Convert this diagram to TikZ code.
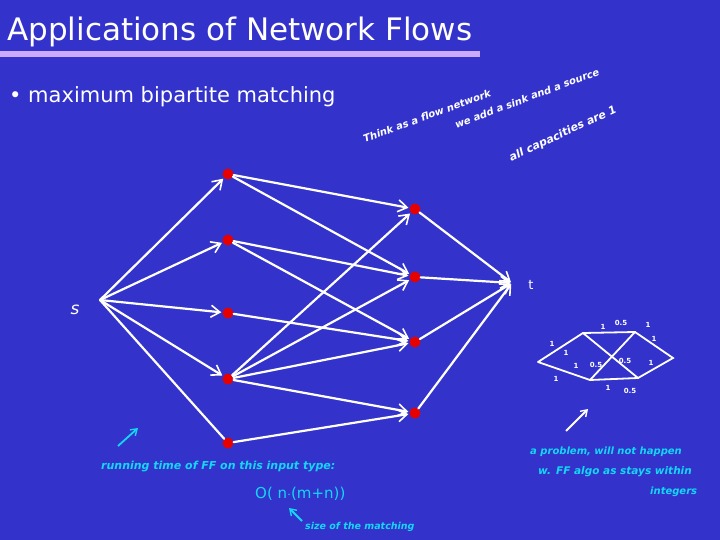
\documentclass[tikz,border=0pt]{standalone}
\usepackage{fontspec}
\setmainfont{DejaVu Sans}
\newfontfamily\handfont{DejaVu Sans}
\usetikzlibrary{arrows.meta}
\definecolor{bg}{RGB}{51,51,204}
\definecolor{bar}{RGB}{204,170,255}
\definecolor{cyanhand}{RGB}{20,215,245}
\definecolor{nodered}{RGB}{230,0,0}
\tikzset{
  vtx/.style={circle,fill=nodered,inner sep=0pt,minimum size=11pt,draw=none},
  pt/.style={inner sep=0pt,minimum size=0pt},
  edge/.style={draw=white,line width=2.2pt,line cap=round,-{Straight Barb[length=9pt,width=12pt,line width=1.6pt]},shorten >=1pt},
  plain/.style={draw=white,line width=2.2pt,line cap=round},
  small/.style={draw=white,line width=1.8pt,line cap=round},
  hw/.style={text=white,font=\handfont\bfseries\itshape\fontsize{10}{12}\selectfont,inner sep=0pt},
  cw/.style={text=cyanhand,font=\handfont\bfseries\itshape\fontsize{10}{12}\selectfont,inner sep=0pt},
  lab/.style={text=white,font=\handfont\bfseries\fontsize{7}{8}\selectfont,inner sep=0pt},
  carrow/.style={draw=cyanhand,line width=1.8pt,-{Straight Barb[length=6pt,width=8pt,line width=1.4pt]}},
  warrow/.style={draw=white,line width=1.8pt,-{Straight Barb[length=6pt,width=8pt,line width=1.4pt]}}
}
\begin{document}
\begin{tikzpicture}[x=1pt,y=-1pt]
\fill[bg] (0,0) rectangle (720,540);
\useasboundingbox (0,0) rectangle (720,540);
% title
\node[anchor=west,text=white,font=\fontsize{31}{34}\selectfont,inner sep=0pt] (title) at (7,32) {Applications of Network Flows};
\fill[bar] (0,51) rectangle (480,57);
\node[anchor=west,text=white,font=\fontsize{21}{24}\selectfont,inner sep=0pt] (bullet) at (9,97) {\textbullet\ maximum bipartite matching};
% handwritten notes top
\node[hw,rotate=20] (n1) at (427,116) {Think as a flow network};
\node[hw,rotate=20.5] (n2) at (527,98) {we add a sink and a source};
\node[hw,rotate=25,font=\handfont\bfseries\itshape\fontsize{11}{12}\selectfont] (n3) at (563,134) {all capacities are 1};
% graph
\node[pt] (s) at (100,300) {};
\node[text=white,font=\fontsize{17}{20}\selectfont\itshape,inner sep=0pt] (slab) at (75,310) {s};
\node[pt] (t) at (512,283) {};
\node[text=white,font=\fontsize{13}{15}\selectfont,inner sep=0pt] (tlab) at (531,285) {t};
\node[vtx] (l1) at (228,174) {};
\node[vtx] (l2) at (228,240) {};
\node[vtx] (l3) at (228,313) {};
\node[vtx] (l4) at (228,379) {};
\node[vtx] (l5) at (228,443) {};
\node[vtx] (r1) at (415,209) {};
\node[vtx] (r2) at (415,277) {};
\node[vtx] (r3) at (415,342) {};
\node[vtx] (r4) at (415,413) {};
\draw[edge] (s) -- (l1);
\draw[edge] (s) -- (l2);
\draw[edge] (s) -- (l3);
\draw[edge] (s) -- (l4);
\draw[plain] (s) -- (l5);
\draw[edge] (l1) -- (r1);
\draw[edge] (l1) -- (r2);
\draw[edge] (l2) -- (r2);
\draw[edge] (l2) -- (r3);
\draw[edge] (l3) -- (r3);
\draw[edge] (l4) -- (r1);
\draw[edge] (l4) -- (r2);
\draw[edge] (l4) -- (r3);
\draw[edge] (l4) -- (r4);
\draw[edge] (l5) -- (r4);
\draw[edge] (r1) -- (t);
\draw[edge] (r2) -- (t);
\draw[edge] (r3) -- (t);
\draw[edge] (r4) -- (t);
% small network
\coordinate (a) at (538,362);
\coordinate (b) at (583,333);
\coordinate (c) at (635,332);
\coordinate (d) at (673,358);
\coordinate (e) at (590,380);
\coordinate (f) at (638,378);
\draw[small] (a) -- (b) -- (c) -- (d) -- (f) -- (e) -- (a);
\draw[small] (b) -- (f);
\draw[small] (c) -- (e);
\node[lab] (m1) at (603,327) {1};
\node[lab] (m2) at (621,323) {0.5};
\node[lab] (m3) at (648,325) {1};
\node[lab] (m4) at (654,339) {1};
\node[lab] (m5) at (552,344) {1};
\node[lab] (m6) at (566,353) {1};
\node[lab] (m7) at (576,366) {1};
\node[lab] (m8) at (596,365) {0.5};
\node[lab] (m9) at (625,361) {0.5};
\node[lab] (m10) at (651,363) {1};
\node[lab] (m11) at (556,379) {1};
\node[lab] (m12) at (608,388) {1};
\node[lab] (m13) at (630,391) {0.5};
% bottom left notes
\coordinate (ca1) at (118,446);
\coordinate (ca2) at (138,428);
\draw[carrow] (ca1) -- (ca2);
\node[cw,anchor=west,font=\handfont\bfseries\itshape\fontsize{11}{13}\selectfont] (rt) at (101,467) {running time of FF on this input type:};
\node[cw,anchor=west,font=\handfont\fontsize{15}{18}\selectfont] (big) at (255,494) {O( n$\cdot$(m+n))};
\coordinate (cb1) at (302,521);
\coordinate (cb2) at (289,508);
\draw[carrow] (cb1) -- (cb2);
\node[cw,anchor=west,font=\handfont\bfseries\itshape\fontsize{9.5}{11}\selectfont] (sz) at (305,527) {size of the matching};
% bottom right notes
\coordinate (wa1) at (566,431);
\coordinate (wa2) at (588,409);
\draw[warrow] (wa1) -- (wa2);
\node[cw,anchor=west] (p1) at (530,452) {a problem, will not happen};
\node[cw,anchor=west,font=\handfont\bfseries\itshape\fontsize{10.5}{12}\selectfont] (p2) at (538,472) {w. FF algo as stays within};
\node[cw,anchor=west] (p3) at (650,492) {integers};
\end{tikzpicture}
\end{document}
